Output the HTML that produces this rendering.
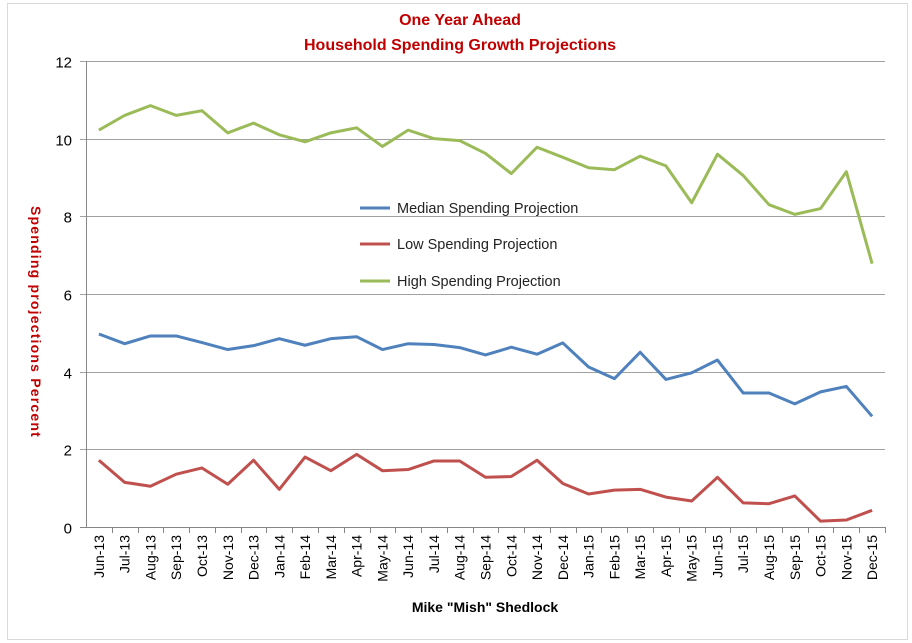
<!DOCTYPE html>
<html><head><meta charset="utf-8">
<style>
html,body{margin:0;padding:0;background:#fff;}
body{width:912px;height:643px;overflow:hidden;position:relative;font-family:"Liberation Sans",Arial,sans-serif;}
</style></head>
<body>
<svg id="chart" width="912" height="643" xmlns="http://www.w3.org/2000/svg" style="position:absolute;left:0;top:0">
<rect x="7.5" y="3.5" width="900" height="636" fill="#fff" stroke="#d9d9d9"/>
<text x="460" y="25" text-anchor="middle" font-size="16" font-weight="bold" fill="#c00000">One Year Ahead</text>
<text x="460" y="50" text-anchor="middle" font-size="16" font-weight="bold" fill="#c00000">Household Spending Growth Projections</text>
<text transform="translate(31,322) rotate(90)" text-anchor="middle" font-size="14" font-weight="bold" letter-spacing="1.2" fill="#c00000">Spending  projections  Percent</text>
<text x="485" y="612" text-anchor="middle" font-size="14" font-weight="bold" fill="#000">Mike "Mish" Shedlock</text>
<g id="grid"></g><g id="axes"></g><g id="series"></g>
<g>
<line x1="360" y1="208" x2="390" y2="208" stroke="#4f81bd" stroke-width="3"/>
<text x="397" y="213" font-size="14.5" fill="#222">Median Spending Projection</text>
<line x1="360" y1="244" x2="390" y2="244" stroke="#c0504d" stroke-width="3"/>
<text x="397" y="249" font-size="14.5" fill="#222">Low Spending Projection</text>
<line x1="360" y1="281" x2="390" y2="281" stroke="#9bbb59" stroke-width="3"/>
<text x="397" y="286" font-size="14.5" fill="#222">High Spending Projection</text>
</g>
</svg>
<script>
const categories=["Jun-13","Jul-13","Aug-13","Sep-13","Oct-13","Nov-13","Dec-13","Jan-14","Feb-14","Mar-14","Apr-14","May-14","Jun-14","Jul-14","Aug-14","Sep-14","Oct-14","Nov-14","Dec-14","Jan-15","Feb-15","Mar-15","Apr-15","May-15","Jun-15","Jul-15","Aug-15","Sep-15","Oct-15","Nov-15","Dec-15"];
const highValues=[10.22,10.6,10.85,10.6,10.72,10.15,10.4,10.1,9.92,10.15,10.28,9.8,10.22,10.0,9.95,9.62,9.1,9.78,9.52,9.25,9.2,9.55,9.3,8.35,9.6,9.05,8.3,8.05,8.2,9.15,6.78];
const medianValues=[4.97,4.72,4.92,4.92,4.75,4.57,4.67,4.85,4.68,4.85,4.9,4.57,4.72,4.7,4.62,4.43,4.63,4.45,4.74,4.12,3.82,4.5,3.8,3.97,4.3,3.45,3.45,3.17,3.48,3.62,2.85];
const lowValues=[1.72,1.15,1.05,1.36,1.52,1.1,1.72,0.97,1.8,1.45,1.87,1.45,1.48,1.7,1.7,1.28,1.3,1.72,1.12,0.85,0.95,0.97,0.77,0.67,1.28,0.62,0.6,0.8,0.15,0.18,0.43];
const yTicks=[0,2,4,6,8,10,12];
const NS="http://www.w3.org/2000/svg";
const X0=86,X1=885,Y0=527,Y1=61,YMAX=12;
const band=(X1-X0)/categories.length;
function xs(i){return X0+band*(i+0.5);}
function ys(v){return Y0-(v/YMAX)*(Y0-Y1);}
function mk(tag,attrs,parent){const e=document.createElementNS(NS,tag);for(const k in attrs)e.setAttribute(k,attrs[k]);parent.appendChild(e);return e;}
const grid=document.getElementById('grid'),axes=document.getElementById('axes'),ser=document.getElementById('series');
yTicks.forEach(t=>{
  const y=Math.round(ys(t))+0.5;
  const l=mk('line',{x1:X0-6,x2:X1,y1:y,y2:y,stroke:t===0?'#868686':'#a0a0a0','stroke-width':1},grid);
  
  
  const tx=mk('text',{x:X0-14,y:y+6,'text-anchor':'end','font-size':15,fill:'#000'},axes);
  tx.textContent=t;
  
  
});
const ya=mk('line',{x1:X0+0.5,x2:X0+0.5,y1:Y1,y2:Y0,stroke:'#868686'},axes);


categories.forEach((c,i)=>{
  const xb=Math.round(X0+band*(i+1))+0.5;
  mk('line',{x1:xb,x2:xb,y1:Y0,y2:Y0+6,stroke:'#868686'},axes);
  const x=xs(i);
  const tx=mk('text',{transform:`translate(${x+5},${Y0+8}) rotate(-90)`,'text-anchor':'end','font-size':14,fill:'#000'},axes);
  tx.textContent=c;
  
  
});
function line(vals,color,name){
  const p=mk('polyline',{points:vals.map((v,i)=>xs(i)+','+ys(v)).join(' '),fill:'none',stroke:color,'stroke-width':3,'stroke-linejoin':'round'},ser);
  
  
}
line(highValues,'#9bbb59','high-series-line');
line(medianValues,'#4f81bd','median-series-line');
line(lowValues,'#c0504d','low-series-line');
</script>
</body></html>
